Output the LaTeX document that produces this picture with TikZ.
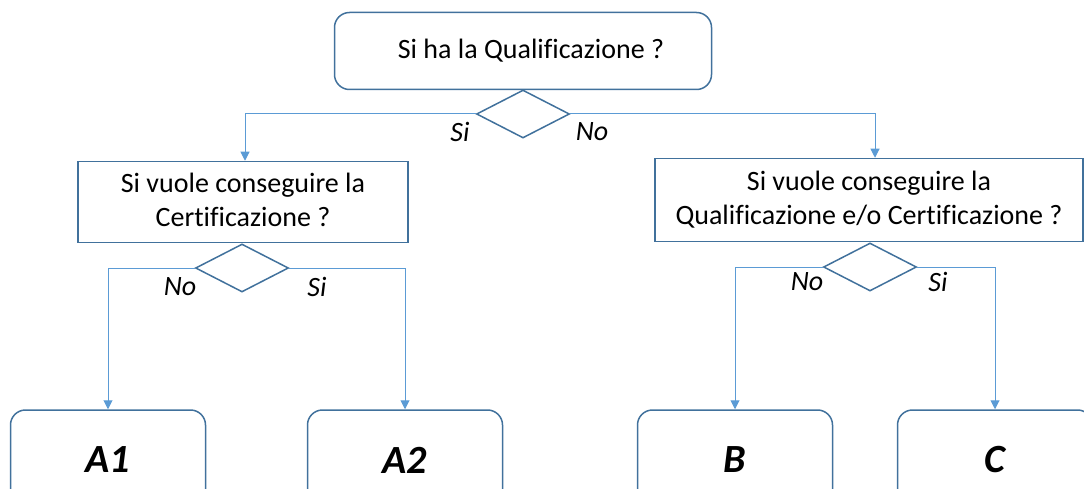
\documentclass[tikz,border=0pt]{standalone}
\usepackage{fontspec}
\setmainfont{Carlito}[Ligatures=NoCommon]
\usepackage{xcolor}
\usetikzlibrary{shapes.geometric, arrows.meta, positioning}
\definecolor{boxblue}{HTML}{41719C}
\definecolor{linkblue}{HTML}{5B9BD5}

\begin{document}
\begin{tikzpicture}[x=1pt, y=-1pt,
	qbox/.style = {draw=boxblue, line width=1.5pt, align=center, inner sep=0pt, font=\fontsize{28}{34}\selectfont},
	choice/.style = {diamond, draw=boxblue, line width=1.5pt, minimum width=93pt, minimum height=48pt, inner sep=0pt},
	result/.style = {draw=boxblue, line width=1.5pt, rounded corners=15pt, minimum width=195pt, minimum height=100pt, font=\fontsize{40}{40}\selectfont\bfseries\itshape},
	lbl/.style = {font=\fontsize{28}{28}\selectfont\itshape},
	link/.style = {draw=linkblue, line width=1pt, -{Triangle[width=9pt,length=9pt]}}]
	\clip (0,0) rectangle (1084,489);
	% questions
	\node[qbox, rounded corners=15pt, minimum width=377pt, minimum height=77pt] (qual) at (523,51) {\hspace{16pt}Si ha la Qualificazione ?};
	\node[choice] (dqual) at (523,114) {};
	\node[qbox, minimum width=330pt, minimum height=81pt, text depth=4pt] (cert) at (243,202) {Si vuole conseguire la\\Certificazione ?};
	\node[qbox, minimum width=428pt, minimum height=83pt, text depth=4pt] (both) at (869,200) {Si vuole conseguire la\\Qualificazione e/o Certificazione ?};
	\node[choice] (dcert) at (242,268) {};
	\node[choice] (dboth) at (870,267) {};
	% outcomes
	\node[result] (a1) at (108,460) {A1};
	\node[result] (a2) at (405,460) {A2};
	\node[result] (b) at (735,460) {B};
	\node[result] (c) at (995,460) {C};
	% answers
	\node[lbl] (si1) at (460,132) {Si};
	\node[lbl] (no1) at (592,132) {No};
	\node[lbl] (no2) at (180,287) {No};
	\node[lbl] (si2) at (317,287) {Si};
	\node[lbl] (no3) at (807,282) {No};
	\node[lbl] (si3) at (938,282) {Si};
	\draw[link] (dqual.west) -| ([xshift=2pt]cert.north);
	\draw[link] (dqual.east) -| ([xshift=6pt]both.north);
	\draw[link] (dcert.west) -| (a1.north);
	\draw[link] (dcert.east) -| (a2.north);
	\draw[link] (dboth.west) -| (b.north);
	\draw[link] (dboth.east) -| (c.north);
\end{tikzpicture}
\end{document}
